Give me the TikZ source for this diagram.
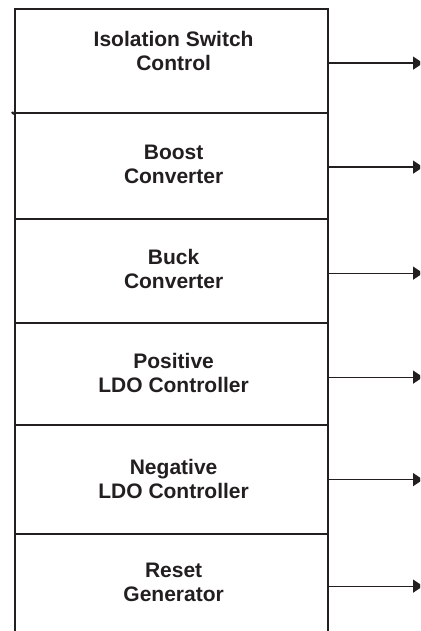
\documentclass[tikz,border=0pt]{standalone}
\usepackage{fontspec}
\setmainfont{Liberation Sans}
\usetikzlibrary{arrows.meta}
\definecolor{ink}{HTML}{231F20}
\begin{document}
\begin{tikzpicture}[x=1pt,y=1pt,
  blk/.style={draw=ink, line width=2.2pt, rectangle, minimum width=313pt, inner sep=0pt, anchor=north west},
  txt/.style={text=ink, font=\fontsize{21}{24}\selectfont\bfseries, align=center, inner sep=0pt},
  outarrow/.style={draw=ink, line width=1.2pt, -{Triangle[length=10pt,width=13pt]}}]
\clip (0,0) rectangle (420,-631);
\fill[white] (0,0) rectangle (420,-631);
\coordinate (e) at (423,0);
\node[blk, minimum height=104pt] (b1) at (14,-8) {};
\node[blk, minimum height=106pt] (b2) at (14,-112) {};
\node[blk, minimum height=104pt] (b3) at (14,-218) {};
\node[blk, minimum height=102pt] (b4) at (14,-322) {};
\node[blk, minimum height=109pt] (b5) at (14,-424) {};
\node[blk, minimum height=104pt] (b6) at (14,-533) {};
\draw[draw=ink, line width=2.2pt] (12,-112) -- (b1.south west);
\node[txt] at ([xshift=2pt,yshift=10pt]b1.center) {Isolation Switch\\Control};
\node[txt] at ([xshift=2pt,yshift=2pt]b2.center) {Boost\\Converter};
\node[txt] at ([xshift=2pt,yshift=2pt]b3.center) {Buck\\Converter};
\node[txt] at ([xshift=2pt,yshift=1pt]b4.center) {Positive\\LDO Controller};
\node[txt] at ([xshift=2pt,yshift=1pt]b5.center) {Negative\\LDO Controller};
\node[txt] at ([xshift=2pt,yshift=4pt]b6.center) {Reset\\Generator};
\draw[outarrow] ([yshift=-2pt]b1.east) -- ([yshift=-2pt]b1.east -| e);
\draw[outarrow] ([yshift=-1pt]b2.east) -- ([yshift=-1pt]b2.east -| e);
\draw[outarrow] ([yshift=-2pt]b3.east) -- ([yshift=-2pt]b3.east -| e);
\draw[outarrow] ([yshift=-3pt]b4.east) -- ([yshift=-3pt]b4.east -| e);
\draw[outarrow] ([yshift=0pt]b5.east) -- ([yshift=0pt]b5.east -| e);
\draw[outarrow] ([yshift=0pt]b6.east) -- ([yshift=0pt]b6.east -| e);
\end{tikzpicture}
\end{document}
